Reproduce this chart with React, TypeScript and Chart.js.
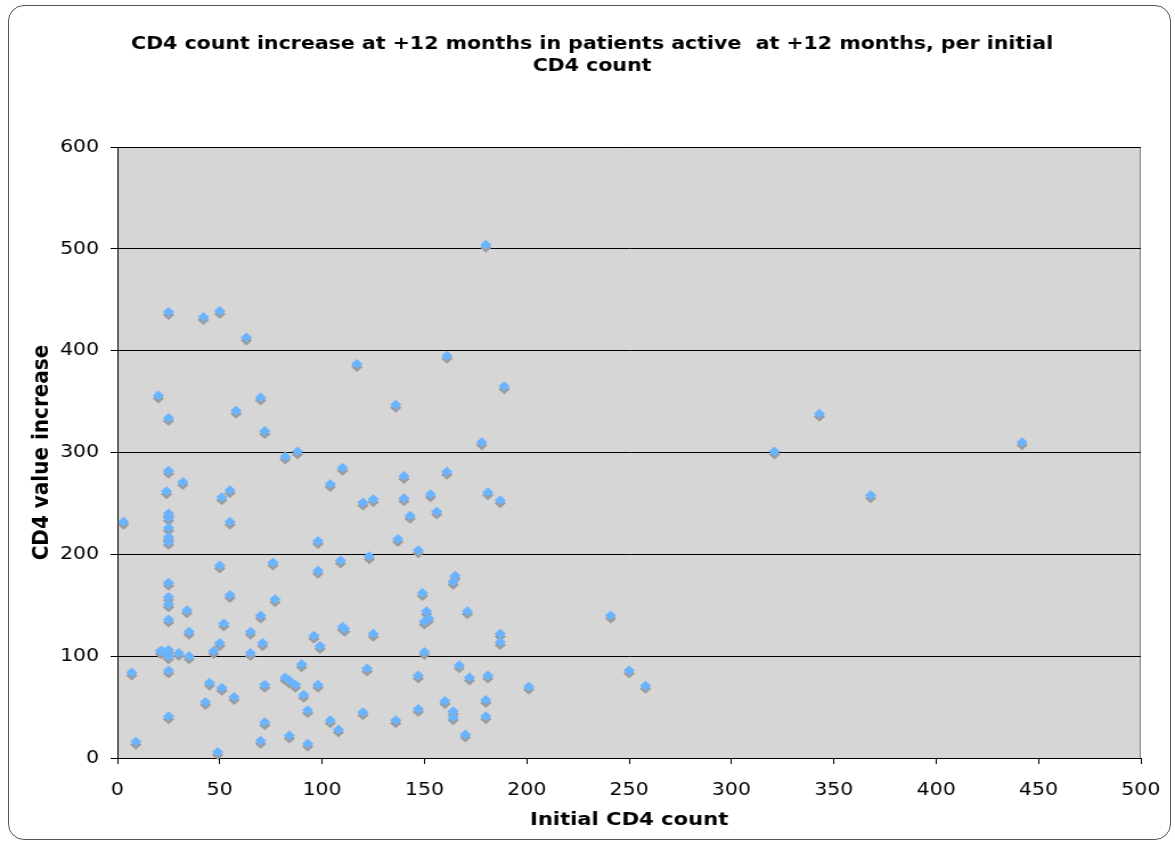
import React, { useEffect, useRef } from "react";
import { Chart, registerables } from "chart.js";

Chart.register(...registerables);

const chartTitle = [
  "CD4 count increase at +12 months in patients active  at +12 months, per initial",
  "CD4 count",
];
const xAxisTitle = "Initial CD4 count";
const yAxisTitle = "CD4 value increase";

const initialCD4 = [
  3, 7, 9, 20, 22, 25, 25, 25, 24, 25, 25, 25, 25, 25, 25, 25, 25, 25, 25, 25,
  25, 25, 21, 30, 32, 34, 35, 35, 42, 43, 45, 47, 49, 50, 50, 50, 51, 51, 52, 55,
  55, 55, 57, 58, 63, 65, 65, 70, 70, 70, 71, 72, 72, 72, 76, 77, 82, 82, 84, 84,
  87, 88, 90, 91, 93, 93, 96, 98, 98, 98, 99, 104, 104, 108, 109, 110, 110, 111, 117, 120,
  120, 122, 123, 125, 125, 136, 136, 137, 140, 140, 143, 147, 147, 147, 149, 150, 151, 150, 152, 153,
  156, 160, 161, 161, 165, 164, 164, 164, 167, 170, 171, 172, 178, 180, 180, 180, 181, 181, 187, 187,
  187, 189, 201, 241, 250, 258, 321, 343, 368, 442,
];

const cd4Increase = [
  232, 84, 16, 356, 105, 438, 334, 282, 262, 240, 236, 226, 217, 212, 172, 158, 151, 136, 106, 100,
  86, 41, 105, 103, 271, 145, 124, 100, 433, 55, 74, 105, 6, 439, 189, 113, 256, 69, 132, 263,
  232, 160, 60, 341, 413, 124, 103, 354, 140, 17, 113, 321, 72, 35, 192, 156, 296, 79, 76, 22,
  72, 301, 92, 62, 47, 14, 120, 213, 184, 72, 110, 269, 37, 28, 194, 285, 129, 127, 387, 251,
  45, 88, 198, 254, 122, 347, 37, 215, 277, 255, 238, 204, 81, 48, 162, 104, 144, 134, 137, 259,
  242, 56, 395, 281, 179, 173, 46, 40, 91, 23, 144, 79, 310, 504, 57, 41, 261, 81, 253, 122,
  114, 365, 70, 140, 86, 71, 301, 338, 258, 310,
];

const xTicks = [0, 50, 100, 150, 200, 250, 300, 350, 400, 450, 500];
const yTicks = [0, 100, 200, 300, 400, 500, 600];

const FONT = "'DejaVu Sans', Verdana, sans-serif";

// The reference is a horizontally stretched rendering; draw narrower and stretch.
const PAGE_W = 1175;
const PAGE_H = 843;
const CANVAS_W = 1031;
const STRETCH = PAGE_W / CANVAS_W;

const plotBgPlugin = {
  id: "plotBg",
  beforeDraw(chart: any) {
    const { ctx, chartArea } = chart;
    if (!chartArea) return;
    ctx.save();
    ctx.fillStyle = "#d6d6d6";
    ctx.fillRect(chartArea.left, chartArea.top, chartArea.right - chartArea.left, chartArea.bottom - chartArea.top);
    ctx.strokeStyle = "#808080";
    ctx.lineWidth = 1;
    ctx.beginPath();
    ctx.moveTo(chartArea.left, chartArea.top + 0.5);
    ctx.lineTo(chartArea.right - 0.5, chartArea.top + 0.5);
    ctx.lineTo(chartArea.right - 0.5, chartArea.bottom);
    ctx.stroke();
    ctx.restore();
  },
};

const titlePlugin = {
  id: "mainTitle",
  afterDraw(chart: any) {
    const { ctx } = chart;
    ctx.save();
    ctx.fillStyle = "#000";
    ctx.font = `bold 18px ${FONT}`;
    ctx.textAlign = "center";
    ctx.textBaseline = "middle";
    const cx = chart.width / 2 + 4;
    chartTitle.forEach((line, i) => {
      ctx.fillText(line, cx, 44 + i * 22);
    });
    ctx.restore();
  },
};

const shadowPlugin = {
  id: "pointShadow",
  beforeDatasetsDraw(chart: any) {
    const { ctx } = chart;
    const meta = chart.getDatasetMeta(0);
    ctx.save();
    ctx.fillStyle = "#9c9c9c";
    const r = 5;
    meta.data.forEach((el: any) => {
      const x = el.x;
      const y = el.y + 3;
      ctx.beginPath();
      ctx.moveTo(x, y - r);
      ctx.lineTo(x + r, y);
      ctx.lineTo(x, y + r);
      ctx.lineTo(x - r, y);
      ctx.closePath();
      ctx.fill();
    });
    ctx.restore();
  },
};

export default function App() {
  const canvasRef = useRef<HTMLCanvasElement | null>(null);

  useEffect(() => {
    if (!canvasRef.current) return;
    const points = initialCD4.map((x, i) => ({ x, y: cd4Increase[i] }));
    const chart = new Chart(canvasRef.current, {
      type: "scatter",
      data: {
        datasets: [
          {
            label: "CD4",
            data: points,
            pointStyle: "rectRot",
            pointRadius: 5,
            pointBorderWidth: 0,
            backgroundColor: "#6ab4ff",
            borderColor: "#6ab4ff",
          },
        ],
      },
      options: {
        animation: false,
        responsive: false,
        maintainAspectRatio: false,
        layout: { padding: { left: 0, right: 30, top: 147, bottom: 0 } },
        plugins: {
          legend: { display: false },
          tooltip: { enabled: false },
          title: { display: false },
        },
        scales: {
          x: {
            type: "linear",
            min: 0,
            max: 500,
            afterBuildTicks: (scale: any) => {
              scale.ticks = xTicks.map((v) => ({ value: v }));
            },
            afterFit: (scale: any) => {
              scale.height = 85;
              scale.paddingLeft = 0;
              scale.paddingRight = 0;
            },
            grid: {
              drawOnChartArea: false,
              drawTicks: true,
              tickLength: 6,
              color: "#000",
            },
            border: { color: "#000", width: 1 },
            ticks: {
              color: "#000",
              font: { family: FONT, size: 18 },
              padding: 16,
              maxRotation: 0,
            },
            title: {
              display: true,
              text: xAxisTitle,
              color: "#000",
              font: { family: FONT, size: 18.5, weight: "bold", lineHeight: 1.2 },
              padding: { top: 4, bottom: 12 },
            },
          },
          y: {
            type: "linear",
            min: 0,
            max: 600,
            afterBuildTicks: (scale: any) => {
              scale.ticks = yTicks.map((v) => ({ value: v }));
            },
            afterFit: (scale: any) => {
              scale.width = 103;
            },
            grid: {
              drawOnChartArea: true,
              drawTicks: true,
              tickLength: 6,
              color: "#000",
            },
            border: { color: "#000", width: 1 },
            ticks: {
              color: "#000",
              font: { family: FONT, size: 18 },
              padding: 10,
            },
            title: {
              display: true,
              text: yAxisTitle,
              color: "#000",
              font: { family: FONT, size: 20, weight: "bold", lineHeight: 1.2 },
              padding: { top: 25, bottom: 4 },
            },
          },
        },
      },
      plugins: [plotBgPlugin, shadowPlugin, titlePlugin],
    });
    return () => chart.destroy();
  }, []);

  return (
    <div style={{ position: "absolute", left: 0, top: 0, width: PAGE_W, height: PAGE_H, background: "#fff", overflow: "hidden" }}>
      <div
        style={{
          position: "absolute",
          left: 0,
          top: 0,
          width: CANVAS_W,
          height: PAGE_H,
          transform: `scaleX(${STRETCH})`,
          transformOrigin: "0 0",
        }}
      >
        <canvas
          ref={canvasRef}
          width={CANVAS_W}
          height={PAGE_H}
          style={{ display: "block", width: CANVAS_W, height: PAGE_H }}
        />
      </div>
      <div
        style={{
          position: "absolute",
          left: 8,
          top: 5,
          width: 1163,
          height: 835,
          border: "1px solid #555",
          borderRadius: 16,
          boxSizing: "border-box",
          pointerEvents: "none",
        }}
      />
    </div>
  );
}
